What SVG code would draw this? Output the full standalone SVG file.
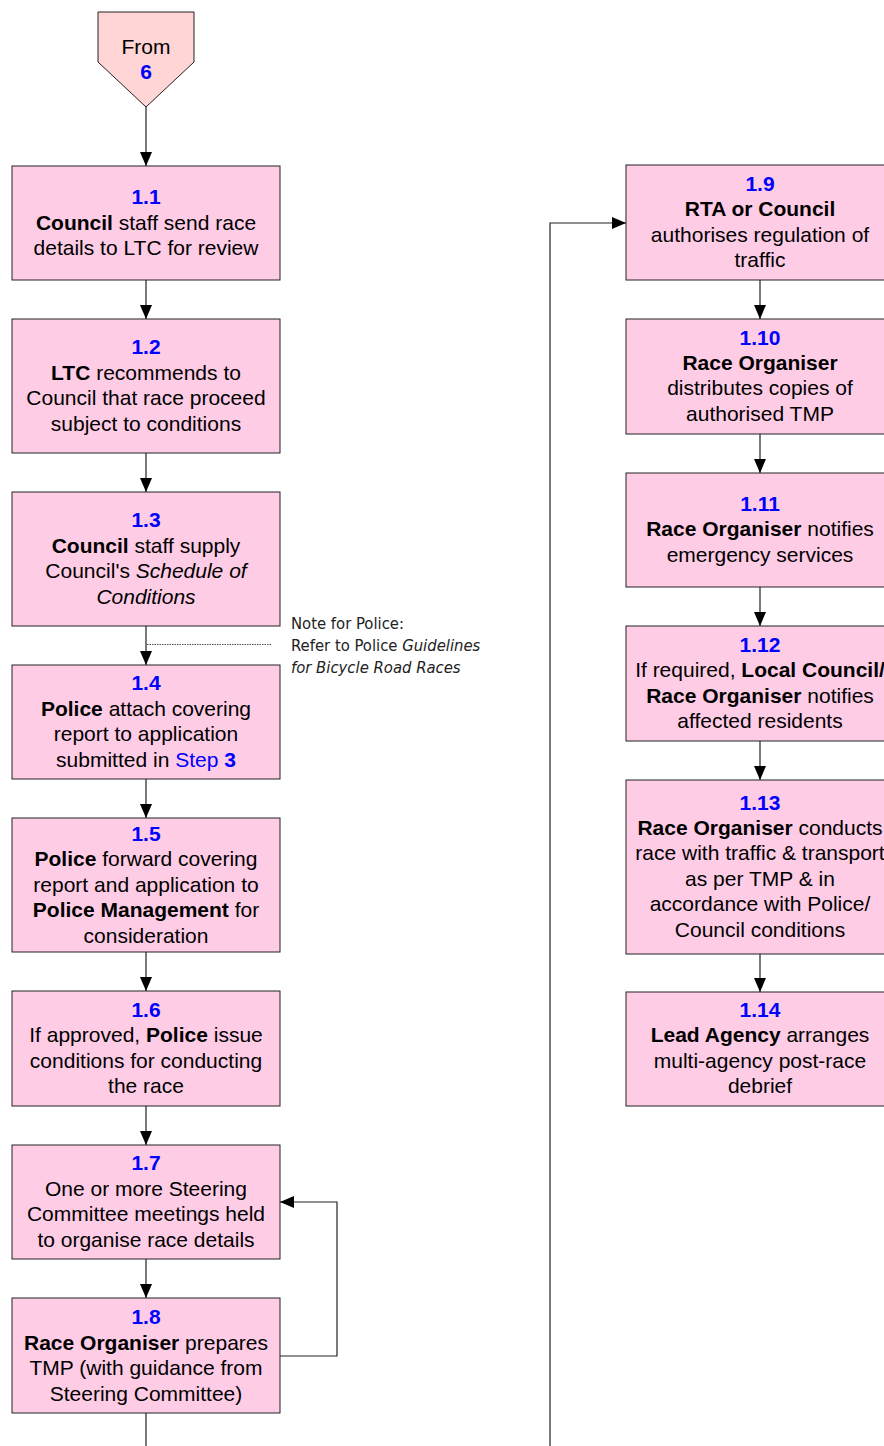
<svg xmlns="http://www.w3.org/2000/svg" width="884" height="1446" viewBox="0 0 884 1446">
<style>
.box{fill:#FFCCE6;stroke:#222;stroke-width:1}
.t{font-family:"Liberation Sans",Arial,sans-serif;font-size:21px;fill:#000;text-anchor:middle}
.n{fill:#0000FF;font-weight:bold}
.b{font-weight:bold}
.i{font-style:italic}
.c{fill:none;stroke:#222;stroke-width:1.2}
.note{font-family:"DejaVu Sans Condensed","DejaVu Sans",sans-serif;font-size:16.5px;fill:#222}
</style>
<defs>
<marker id="ah" markerWidth="14" markerHeight="12" refX="14" refY="6" orient="auto" markerUnits="userSpaceOnUse">
<path d="M0,0 L14,6 L0,12 Z" fill="#000"/>
</marker>
</defs>
<rect width="884" height="1446" fill="#fff"/>
<g id="connectors">
<line class="c" x1="146" y1="107" x2="146" y2="166" marker-end="url(#ah)"/>
<line class="c" x1="146" y1="280" x2="146" y2="319" marker-end="url(#ah)"/>
<line class="c" x1="146" y1="453" x2="146" y2="492" marker-end="url(#ah)"/>
<line class="c" x1="146" y1="626" x2="146" y2="665" marker-end="url(#ah)"/>
<line class="c" x1="146" y1="779" x2="146" y2="818" marker-end="url(#ah)"/>
<line class="c" x1="146" y1="952" x2="146" y2="991" marker-end="url(#ah)"/>
<line class="c" x1="146" y1="1106" x2="146" y2="1145" marker-end="url(#ah)"/>
<line class="c" x1="146" y1="1259" x2="146" y2="1298" marker-end="url(#ah)"/>
<line class="c" x1="146" y1="1413" x2="146" y2="1446"/>
<polyline class="c" points="280,1356 337,1356 337,1202 280,1202" marker-end="url(#ah)"/>
<polyline class="c" points="550,1446 550,223 626,223" marker-end="url(#ah)"/>
<line class="c" x1="760" y1="280" x2="760" y2="319" marker-end="url(#ah)"/>
<line class="c" x1="760" y1="434" x2="760" y2="473" marker-end="url(#ah)"/>
<line class="c" x1="760" y1="587" x2="760" y2="626" marker-end="url(#ah)"/>
<line class="c" x1="760" y1="741" x2="760" y2="780" marker-end="url(#ah)"/>
<line class="c" x1="760" y1="954" x2="760" y2="992" marker-end="url(#ah)"/>
<line x1="147" y1="644.5" x2="272" y2="644.5" stroke="#222" stroke-width="0.8" stroke-dasharray="1.5,1"/>
</g>
<g id="from6">
<polygon points="98,12 194,12 194,62 146,107 98,62" fill="#FFD5D5" stroke="#222" stroke-width="1"/>
<text class="t" x="146" y="54">From</text>
<text class="t n" x="146" y="79">6</text>
</g>
<g id="n1_1">
<rect class="box" x="12" y="166" width="268" height="114"/>
<text class="t n" x="146" y="204">1.1</text>
<text class="t" x="146" y="230"><tspan class="b">Council</tspan> staff send race</text>
<text class="t" x="146" y="255">details to LTC for review</text>
</g>
<g id="n1_2">
<rect class="box" x="12" y="319" width="268" height="134"/>
<text class="t n" x="146" y="354">1.2</text>
<text class="t" x="146" y="380"><tspan class="b">LTC</tspan> recommends to</text>
<text class="t" x="146" y="405">Council that race proceed</text>
<text class="t" x="146" y="431">subject to conditions</text>
</g>
<g id="n1_3">
<rect class="box" x="12" y="492" width="268" height="134"/>
<text class="t n" x="146" y="527">1.3</text>
<text class="t" x="146" y="553"><tspan class="b">Council</tspan> staff supply</text>
<text class="t" x="146" y="578">Council's <tspan class="i">Schedule of</tspan></text>
<text class="t i" x="146" y="604">Conditions</text>
</g>
<g id="note">
<text class="note" x="291" y="629">Note for Police:</text>
<text class="note" x="291" y="651">Refer to Police <tspan font-style="italic">Guidelines</tspan></text>
<text class="note" x="291" y="673" font-style="italic">for Bicycle Road Races</text>
</g>
<g id="n1_4">
<rect class="box" x="12" y="665" width="268" height="114"/>
<text class="t n" x="146" y="690">1.4</text>
<text class="t" x="146" y="716"><tspan class="b">Police</tspan> attach covering</text>
<text class="t" x="146" y="741">report to application</text>
<text class="t" x="146" y="767">submitted in <tspan fill="#0000FF">Step <tspan font-weight="bold">3</tspan></tspan></text>
</g>
<g id="n1_5">
<rect class="box" x="12" y="818" width="268" height="134"/>
<text class="t n" x="146" y="841">1.5</text>
<text class="t" x="146" y="866"><tspan class="b">Police</tspan> forward covering</text>
<text class="t" x="146" y="892">report and application to</text>
<text class="t" x="146" y="917"><tspan class="b">Police Management</tspan> for</text>
<text class="t" x="146" y="943">consideration</text>
</g>
<g id="n1_6">
<rect class="box" x="12" y="991" width="268" height="115"/>
<text class="t n" x="146" y="1017">1.6</text>
<text class="t" x="146" y="1042">If approved, <tspan class="b">Police</tspan> issue</text>
<text class="t" x="146" y="1068">conditions for conducting</text>
<text class="t" x="146" y="1093">the race</text>
</g>
<g id="n1_7">
<rect class="box" x="12" y="1145" width="268" height="114"/>
<text class="t n" x="146" y="1170">1.7</text>
<text class="t" x="146" y="1196">One or more Steering</text>
<text class="t" x="146" y="1221">Committee meetings held</text>
<text class="t" x="146" y="1247">to organise race details</text>
</g>
<g id="n1_8">
<rect class="box" x="12" y="1298" width="268" height="115"/>
<text class="t n" x="146" y="1324">1.8</text>
<text class="t" x="146" y="1350"><tspan class="b">Race Organiser</tspan> prepares</text>
<text class="t" x="146" y="1375">TMP (with guidance from</text>
<text class="t" x="146" y="1401">Steering Committee)</text>
</g>
<g id="n1_9">
<rect class="box" x="626" y="165" width="268" height="115"/>
<text class="t n" x="760" y="191">1.9</text>
<text class="t b" x="760" y="216">RTA or Council</text>
<text class="t" x="760" y="242">authorises regulation of</text>
<text class="t" x="760" y="267">traffic</text>
</g>
<g id="n1_10">
<rect class="box" x="626" y="319" width="268" height="115"/>
<text class="t n" x="760" y="345">1.10</text>
<text class="t b" x="760" y="370">Race Organiser</text>
<text class="t" x="760" y="395">distributes copies of</text>
<text class="t" x="760" y="421">authorised TMP</text>
</g>
<g id="n1_11">
<rect class="box" x="626" y="473" width="268" height="114"/>
<text class="t n" x="760" y="511">1.11</text>
<text class="t" x="760" y="536"><tspan class="b">Race Organiser</tspan> notifies</text>
<text class="t" x="760" y="562">emergency services</text>
</g>
<g id="n1_12">
<rect class="box" x="626" y="626" width="268" height="115"/>
<text class="t n" x="760" y="652">1.12</text>
<text class="t" x="760" y="677">If required, <tspan class="b">Local Council/</tspan></text>
<text class="t" x="760" y="703"><tspan class="b">Race Organiser</tspan> notifies</text>
<text class="t" x="760" y="728">affected residents</text>
</g>
<g id="n1_13">
<rect class="box" x="626" y="780" width="268" height="174"/>
<text class="t n" x="760" y="810">1.13</text>
<text class="t" x="760" y="835"><tspan class="b">Race Organiser</tspan> conducts</text>
<text class="t" x="760" y="860">race with traffic &amp; transport</text>
<text class="t" x="760" y="886">as per TMP &amp; in</text>
<text class="t" x="760" y="911">accordance with Police/</text>
<text class="t" x="760" y="937">Council conditions</text>
</g>
<g id="n1_14">
<rect class="box" x="626" y="992" width="268" height="114"/>
<text class="t n" x="760" y="1017">1.14</text>
<text class="t" x="760" y="1042"><tspan class="b">Lead Agency</tspan> arranges</text>
<text class="t" x="760" y="1068">multi-agency post-race</text>
<text class="t" x="760" y="1093">debrief</text>
</g>
</svg>
